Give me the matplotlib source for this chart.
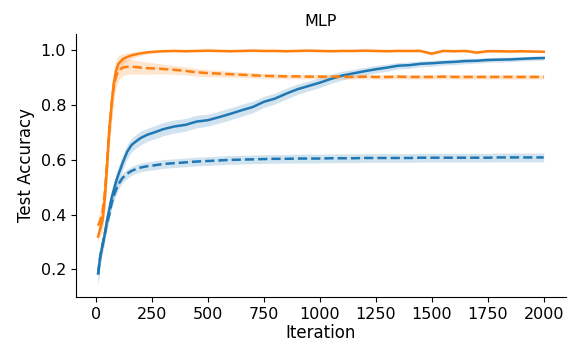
import numpy as np
import matplotlib.pyplot as plt

iters = [10, 20, 30, 40, 50, 60, 70, 80, 90, 100, 120, 140, 160, 180, 200, 230, 260, 300,
         350, 400, 450, 500, 550, 600, 650, 700, 750, 800, 850, 900, 950, 1000,
         1050, 1100, 1150, 1200, 1250, 1300, 1350, 1400, 1450, 1500, 1550, 1600,
         1650, 1700, 1750, 1800, 1850, 1900, 1950, 2000]

# blue, solid
blue_solid = [0.185, 0.25, 0.29, 0.33, 0.38, 0.42, 0.46, 0.49, 0.52, 0.545, 0.59, 0.63, 0.655, 0.668, 0.68, 0.692, 0.70, 0.712,
              0.722, 0.728, 0.74, 0.745, 0.756, 0.768, 0.781, 0.793, 0.812, 0.824, 0.842, 0.858, 0.87, 0.882,
              0.896, 0.908, 0.916, 0.924, 0.931, 0.937, 0.944, 0.946, 0.951, 0.953, 0.956, 0.958,
              0.961, 0.962, 0.965, 0.966, 0.967, 0.969, 0.971, 0.972]
blue_solid_sd = [0.04, 0.03, 0.03, 0.03, 0.03, 0.03, 0.03, 0.03, 0.03, 0.03, 0.028, 0.026, 0.025, 0.025, 0.025, 0.024, 0.024, 0.024,
                 0.024, 0.023, 0.023, 0.022, 0.022, 0.022, 0.022, 0.021, 0.02, 0.02, 0.02, 0.019, 0.018, 0.018,
                 0.017, 0.016, 0.015, 0.014, 0.014, 0.013, 0.012, 0.012, 0.011, 0.011, 0.01, 0.01,
                 0.01, 0.009, 0.009, 0.009, 0.008, 0.008, 0.008, 0.008]

# blue, dashed
blue_dash = [0.185, 0.25, 0.29, 0.33, 0.37, 0.40, 0.44, 0.47, 0.49, 0.51, 0.535, 0.55, 0.56, 0.567, 0.572, 0.577, 0.58, 0.585,
             0.588, 0.591, 0.594, 0.596, 0.598, 0.60, 0.601, 0.602, 0.603, 0.604, 0.604, 0.605, 0.605, 0.605,
             0.606, 0.606, 0.606, 0.607, 0.607, 0.607, 0.607, 0.607, 0.608, 0.608, 0.608, 0.608,
             0.608, 0.608, 0.608, 0.609, 0.609, 0.609, 0.609, 0.609]
blue_dash_sd = [0.04, 0.03, 0.025, 0.022, 0.02, 0.02, 0.02, 0.02, 0.02, 0.018, 0.018, 0.017, 0.016, 0.016, 0.016, 0.016, 0.016, 0.016,
                0.016, 0.016, 0.016, 0.016, 0.016, 0.016, 0.016, 0.016, 0.016, 0.016, 0.016, 0.016, 0.016, 0.016,
                0.016, 0.016, 0.016, 0.016, 0.016, 0.016, 0.016, 0.016, 0.016, 0.016, 0.016, 0.016,
                0.016, 0.016, 0.016, 0.016, 0.016, 0.016, 0.016, 0.016]

# orange, solid
orange_solid = [0.32, 0.35, 0.38, 0.46, 0.58, 0.71, 0.80, 0.88, 0.925, 0.95, 0.968, 0.976, 0.982, 0.986, 0.989, 0.993, 0.995, 0.997,
                0.998, 0.997, 0.998, 0.999, 0.998, 0.997, 0.998, 0.999, 0.998, 0.998, 0.997, 0.998, 0.999, 0.998,
                0.997, 0.998, 0.998, 0.999, 0.998, 0.997, 0.998, 0.998, 0.998, 0.988, 0.998, 0.997,
                0.998, 0.992, 0.997, 0.997, 0.996, 0.997, 0.996, 0.995]
orange_solid_sd = [0.02, 0.03, 0.04, 0.05, 0.06, 0.06, 0.06, 0.05, 0.04, 0.03, 0.02, 0.015, 0.012, 0.01, 0.008, 0.006, 0.005, 0.004,
                   0.004, 0.004, 0.004, 0.004, 0.004, 0.004, 0.004, 0.004, 0.004, 0.004, 0.004, 0.004, 0.004, 0.004,
                   0.004, 0.004, 0.004, 0.004, 0.004, 0.004, 0.004, 0.004, 0.004, 0.006, 0.004, 0.004,
                   0.004, 0.005, 0.004, 0.004, 0.004, 0.004, 0.004, 0.004]

# orange, dashed
orange_dash = [0.36, 0.38, 0.41, 0.48, 0.59, 0.71, 0.80, 0.87, 0.905, 0.925, 0.937, 0.94, 0.94, 0.939, 0.937, 0.935, 0.934, 0.932,
               0.929, 0.925, 0.92, 0.917, 0.915, 0.913, 0.911, 0.909, 0.907, 0.906, 0.905, 0.905, 0.904, 0.904,
               0.904, 0.904, 0.903, 0.904, 0.903, 0.903, 0.904, 0.903, 0.903, 0.903, 0.904, 0.903,
               0.903, 0.903, 0.903, 0.903, 0.903, 0.903, 0.903, 0.903]
orange_dash_sd = [0.03, 0.04, 0.05, 0.06, 0.06, 0.06, 0.06, 0.05, 0.04, 0.035, 0.03, 0.028, 0.026, 0.025, 0.024, 0.022, 0.02, 0.018,
                  0.016, 0.015, 0.014, 0.013, 0.012, 0.011, 0.01, 0.01, 0.009, 0.009, 0.008, 0.008, 0.008, 0.008,
                  0.008, 0.008, 0.008, 0.008, 0.008, 0.008, 0.008, 0.008, 0.008, 0.008, 0.008, 0.008,
                  0.008, 0.008, 0.008, 0.008, 0.008, 0.008, 0.008, 0.008]

blue = '#1f77b4'
orange = '#ff7f0e'

fig = plt.figure(figsize=(5.7, 3.5), dpi=100)
ax = fig.add_axes([0.133, 0.152, 0.86, 0.751])

x = np.array(iters)
series = [
    (blue_solid, blue_solid_sd, blue, '-'),
    (blue_dash, blue_dash_sd, blue, '--'),
    (orange_solid, orange_solid_sd, orange, '-'),
    (orange_dash, orange_dash_sd, orange, '--'),
]
for m, sd, c, ls in series:
    m = np.array(m)
    sd = np.array(sd)
    ax.fill_between(x, m - sd, m + sd, color=c, alpha=0.2, linewidth=0)
    ax.plot(x, m, color=c, linestyle=ls, linewidth=1.8)

ax.set_xlim(-89.5, 2099.5)
ax.set_ylim(0.10, 1.06)
ax.set_xticks([0, 250, 500, 750, 1000, 1250, 1500, 1750, 2000])
ax.set_yticks([0.2, 0.4, 0.6, 0.8, 1.0])
ax.tick_params(labelsize=11.5)
ax.spines['top'].set_visible(False)
ax.spines['right'].set_visible(False)
ax.set_xlabel('Iteration', fontsize=12, labelpad=2)
ax.set_ylabel('Test Accuracy', fontsize=12)
ax.set_title('MLP', fontsize=11.5)

fig.savefig('out.png', dpi=100)
